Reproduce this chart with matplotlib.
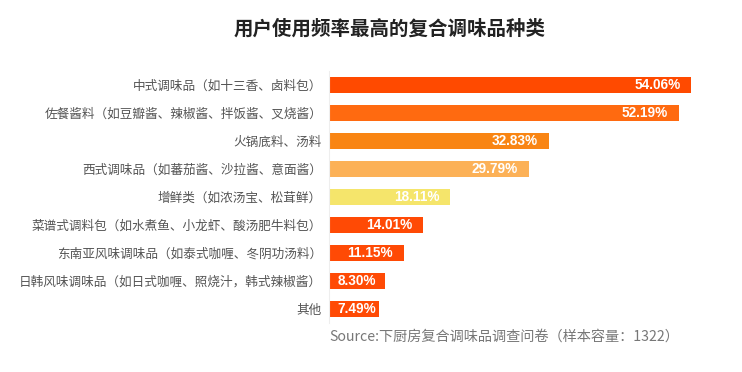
import matplotlib.pyplot as plt

plt.rcParams['font.family'] = ['Noto Sans CJK SC', 'DejaVu Sans']

categories = ['中式调味品（如十三香、卤料包）',
              '佐餐酱料（如豆瓣酱、辣椒酱、拌饭酱、叉烧酱）',
              '火锅底料、汤料',
              '西式调味品（如蕃茄酱、沙拉酱、意面酱）',
              '增鲜类（如浓汤宝、松茸鲜）',
              '菜谱式调料包（如水煮鱼、小龙虾、酸汤肥牛料包）',
              '东南亚风味调味品（如泰式咖喱、冬阴功汤料）',
              '日韩风味调味品（如日式咖喱、照烧汁，韩式辣椒酱）',
              '其他']
values = [54.06, 52.19, 32.83, 29.79, 18.11, 14.01, 11.15, 8.30, 7.49]
colors = ['#FF4A00', '#FF6A10', '#F98513', '#FCB157', '#F5E56B',
          '#FF4A05', '#FF4A05', '#FF4A05', '#FF4A05']

fig = plt.figure(figsize=(7.42, 3.72), dpi=100)
ax = fig.add_axes([329 / 742, 49 / 372, 402 / 742, 252 / 372])

y = list(range(len(values)))
ax.barh(y, values, height=0.57, color=colors)
ax.set_xlim(0, 60)
ax.set_ylim(len(values) - 0.5, -0.5)

for i, v in enumerate(values):
    label = '%.2f%%' % v
    if v < 10:
        ax.text(1.3, i, label, ha='left', va='center', color='white',
                fontsize=9.8, fontweight='bold', family='Liberation Sans')
    else:
        ax.text(v - 1.6, i, label, ha='right', va='center', color='white',
                fontsize=9.8, fontweight='bold', family='Liberation Sans')

ax.set_yticks(y)
ax.set_yticklabels(categories, fontsize=9.1, color='#555555')
ax.tick_params(axis='y', length=0, pad=5)
ax.set_xticks([])
for s in ['top', 'right', 'bottom']:
    ax.spines[s].set_visible(False)
ax.spines['left'].set_color('#eeeeee')
ax.spines['left'].set_linewidth(0.8)

fig.text(390 / 742, 1 - 29 / 372, '用户使用频率最高的复合调味品种类',
         ha='center', va='center', fontsize=14, fontweight='bold', color='#222222')
fig.text(329 / 742, 1 - 337 / 372, 'Source:下厨房复合调味品调查问卷（样本容量：1322）',
         ha='left', va='center', fontsize=10.2, color='#777777')

fig.savefig('out.png', dpi=100)
